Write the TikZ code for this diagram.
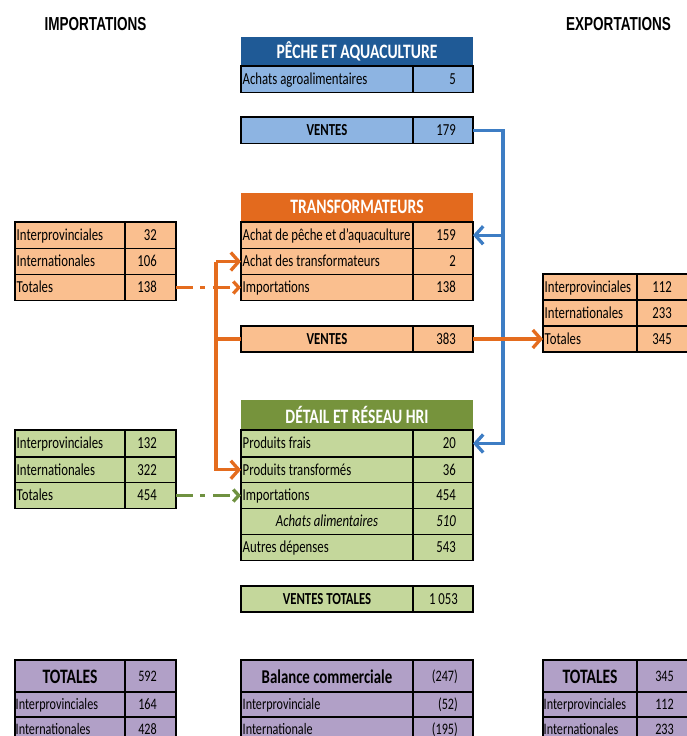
\documentclass[tikz,border=0pt]{standalone}
\usepackage{fontspec}
\setmainfont{Carlito}[FakeStretch=0.76]
\newfontfamily\hdrfont{Liberation Sans}[FakeStretch=0.72]
\usetikzlibrary{arrows.meta}
\definecolor{pechehead}{HTML}{1F5A96}
\definecolor{pechelight}{HTML}{8DB4E2}
\definecolor{orhead}{HTML}{E36A1E}
\definecolor{orlight}{HTML}{FABF8F}
\definecolor{grhead}{HTML}{76933C}
\definecolor{grlight}{HTML}{C4D79B}
\definecolor{purp}{HTML}{B1A0C7}
\definecolor{bluearr}{HTML}{3D7DC4}
\definecolor{orarr}{HTML}{E46C1E}
\definecolor{grarr}{HTML}{6F9140}
\newcommand\rowfont{\fontsize{16.8}{18}\selectfont}
\newcommand\smallrowfont{\fontsize{16}{17}\selectfont}
\newcommand\cells[7]{%
  \node[cellbox, fill=#7, minimum width={(#3)-(#2)}, minimum height={(#6)-(#5)}, anchor=north west] (#1L) at (#2,-#5) {};
  \node[cellbox, fill=#7, minimum width={(#4)-(#3)}, minimum height={(#6)-(#5)}, anchor=north west] (#1V) at (#3,-#5) {};
}
\tikzset{
  cellbox/.style={draw=black, line width=1.8pt, inner sep=0pt, outer sep=0pt},
  hdrbox/.style={inner sep=0pt, outer sep=0pt, text=white, font=\fontsize{20.5}{22}\selectfont\bfseries, minimum width=232pt, minimum height=29pt, anchor=north west},
  lt/.style={anchor=west, xshift=1.5pt, yshift=-1.5pt, inner sep=0pt, font=\rowfont, text height=10.6pt, text depth=3pt},
  vt/.style={anchor=east, xshift=-17pt, yshift=-1.5pt, inner sep=0pt, font=\rowfont, text height=10.6pt, text depth=3pt},
  ct/.style={inner sep=0pt, yshift=-1.5pt, font=\rowfont\bfseries, text height=10.6pt, text depth=3pt},
  blt/.style={lt, font=\smallrowfont},
  bvt/.style={vt, font=\smallrowfont},
  bigt/.style={inner sep=0pt, yshift=-1pt, font=\fontsize{20.5}{22}\selectfont\bfseries},
  toptitle/.style={inner sep=0pt, font=\hdrfont\bfseries\fontsize{18.8}{20}\selectfont},
  barrow/.style={draw=bluearr, line width=3.3pt, line join=miter, -{Straight Barb[length=8pt,width=18pt]}},
  oarrow/.style={draw=orarr, line width=3.3pt, line join=miter, -{Straight Barb[length=8pt,width=18pt]}},
  oline/.style={draw=orarr, line width=3.3pt},
  dd/.style={line width=3.3pt, dash pattern=on 17pt off 7pt on 5pt off 8pt, -{Straight Barb[length=5.5pt,width=12pt]}},
}
\begin{document}
\begin{tikzpicture}[x=1pt,y=1pt]
\useasboundingbox (0,0) rectangle (686,-736);
\fill[white] (0,0) rectangle (686,-736);

% titles
\node[toptitle] (imp) at (95.5,-24) {IMPORTATIONS};
\node[toptitle] (exp) at (618.5,-24) {EXPORTATIONS};

% PECHE
\node[hdrbox, fill=pechehead] (ph) at (241,-37) {PÊCHE ET AQUACULTURE};
\cells{pa}{241}{413}{473}{66}{92.5}{pechelight}
\node[lt] (paT) at (paL.west) {Achats agroalimentaires};
\node[vt] (paN) at (paV.east) {5};
\cells{pv}{241}{413}{473}{117}{143.5}{pechelight}
\node[ct] (pvT) at (pvL) {VENTES};
\node[vt] (pvN) at (pvV.east) {179};

% TRANSFORMATEURS
\node[hdrbox, fill=orhead] (th) at (241,-192.5) {TRANSFORMATEURS};
\cells{ta}{241}{413}{473}{222}{248.5}{orlight}
\node[lt] (taT) at (taL.west) {Achat de pêche et d'aquaculture};
\node[vt] (taN) at (taV.east) {159};
\cells{tb}{241}{413}{473}{248.5}{274.5}{orlight}
\node[lt] (tbT) at (tbL.west) {Achat des transformateurs};
\node[vt] (tbN) at (tbV.east) {2};
\cells{tc}{241}{413}{473}{274.5}{300.5}{orlight}
\node[lt] (tcT) at (tcL.west) {Importations};
\node[vt] (tcN) at (tcV.east) {138};
\cells{tv}{241}{413}{473}{326}{352}{orlight}
\node[ct] (tvT) at (tvL) {VENTES};
\node[vt] (tvN) at (tvV.east) {383};

% left orange table
\cells{la}{15}{125}{176}{222}{248.5}{orlight}
\node[lt] (laT) at (laL.west) {Interprovinciales};
\node[vt, xshift=-2pt] (laN) at (laV.east) {32};
\cells{lb}{15}{125}{176}{248.5}{274.5}{orlight}
\node[lt] (lbT) at (lbL.west) {Internationales};
\node[vt, xshift=-2pt] (lbN) at (lbV.east) {106};
\cells{lc}{15}{125}{176}{274.5}{300.5}{orlight}
\node[lt] (lcT) at (lcL.west) {Totales};
\node[vt, xshift=-2pt] (lcN) at (lcV.east) {138};

% right orange table
\cells{ra}{543}{637}{700}{274}{300}{orlight}
\node[lt] (raT) at (raL.west) {Interprovinciales};
\node[vt, xshift=-11pt] (raN) at (raV.east) {112};
\cells{rb}{543}{637}{700}{300}{326}{orlight}
\node[lt] (rbT) at (rbL.west) {Internationales};
\node[vt, xshift=-11pt] (rbN) at (rbV.east) {233};
\cells{rc}{543}{637}{700}{326}{352}{orlight}
\node[lt] (rcT) at (rcL.west) {Totales};
\node[vt, xshift=-11pt] (rcN) at (rcV.east) {345};

% DETAIL
\node[hdrbox, fill=grhead, minimum height=30pt] (dh) at (241,-400) {DÉTAIL ET RÉSEAU HRI};
\cells{da}{241}{413}{473}{430}{457}{grlight}
\node[lt] (daT) at (daL.west) {Produits frais};
\node[vt] (daN) at (daV.east) {20};
\cells{db}{241}{413}{473}{457}{482.5}{grlight}
\node[lt] (dbT) at (dbL.west) {Produits transformés};
\node[vt] (dbN) at (dbV.east) {36};
\cells{dc}{241}{413}{473}{482.5}{508.5}{grlight}
\node[lt] (dcT) at (dcL.west) {Importations};
\node[vt] (dcN) at (dcV.east) {454};
\cells{dd}{241}{413}{473}{508.5}{534.5}{grlight}
\node[ct, font=\rowfont\itshape] (ddT) at (ddL) {Achats alimentaires};
\node[vt, font=\rowfont\itshape] (ddN) at (ddV.east) {510};
\cells{de}{241}{413}{473}{534.5}{560.5}{grlight}
\node[lt] (deT) at (deL.west) {Autres dépenses};
\node[vt] (deN) at (deV.east) {543};
\cells{vt}{241}{413}{473}{586}{612}{grlight}
\node[ct] (vtT) at (vtL) {VENTES TOTALES};
\node[vt, xshift=2pt] (vtN) at (vtV.east) {1\,053};

% left green table
\cells{ga}{15}{125}{176}{430}{457}{grlight}
\node[lt] (gaT) at (gaL.west) {Interprovinciales};
\node[vt, xshift=-2pt] (gaN) at (gaV.east) {132};
\cells{gb}{15}{125}{176}{457}{482.5}{grlight}
\node[lt] (gbT) at (gbL.west) {Internationales};
\node[vt, xshift=-2pt] (gbN) at (gbV.east) {322};
\cells{gc}{15}{125}{176}{482.5}{508.5}{grlight}
\node[lt] (gcT) at (gcL.west) {Totales};
\node[vt, xshift=-2pt] (gcN) at (gcV.east) {454};

% bottom tables
\cells{xa}{15}{125}{176}{660}{692}{purp}
\node[bigt] (xaT) at (xaL) {TOTALES};
\node[bvt, xshift=-2pt] (xaN) at (xaV.east) {592};
\cells{xb}{15}{125}{176}{692}{717}{purp}
\node[blt, xshift=-1pt] (xbT) at (xbL.west) {Interprovinciales};
\node[bvt, xshift=-2pt] (xbN) at (xbV.east) {164};
\cells{xc}{15}{125}{176}{717}{742}{purp}
\node[blt, xshift=-1pt] (xcT) at (xcL.west) {Internationales};
\node[bvt, xshift=-2pt] (xcN) at (xcV.east) {428};

\cells{ya}{241}{413}{473}{660}{692}{purp}
\node[bigt, font=\fontsize{19.5}{21}\selectfont\bfseries] (yaT) at (yaL) {Balance commerciale};
\node[bvt, xshift=2pt] (yaN) at (yaV.east) {(247)};
\cells{yb}{241}{413}{473}{692}{717}{purp}
\node[blt] (ybT) at (ybL.west) {Interprovinciale};
\node[bvt, xshift=2pt] (ybN) at (ybV.east) {(52)};
\cells{yc}{241}{413}{473}{717}{742}{purp}
\node[blt] (ycT) at (ycL.west) {Internationale};
\node[bvt, xshift=2pt] (ycN) at (ycV.east) {(195)};

\cells{za}{543}{637}{700}{660}{692}{purp}
\node[bigt] (zaT) at (zaL) {TOTALES};
\node[bvt, xshift=-9pt] (zaN) at (zaV.east) {345};
\cells{zb}{543}{637}{700}{692}{717}{purp}
\node[blt, xshift=-1pt] (zbT) at (zbL.west) {Interprovinciales};
\node[bvt, xshift=-9pt] (zbN) at (zbV.east) {112};
\cells{zc}{543}{637}{700}{717}{742}{purp}
\node[blt, xshift=-1pt] (zcT) at (zcL.west) {Internationales};
\node[bvt, xshift=-9pt] (zcN) at (zcV.east) {233};

% blue connectors
\coordinate (bx) at (503,0);
\draw[barrow] (pvV.east) -| (bx |- daV.east) -- (daV.east);
\draw[barrow] (bx |- taV.east) -- (taV.east);

% orange connectors
\coordinate (ox) at (216,0);
\draw[oline] (tvL.west) -- (ox |- tvL.west);
\draw[oarrow] (ox |- tbL.west) -- (tbL.west);
\draw[oarrow] (ox |- tbL.west) -- (ox |- dbL.west) -- (dbL.west);
\draw[oarrow] (tvV.east) -- (rcL.west);

% dash-dot import connectors
\draw[dd, draw=orarr] (lcV.east) -- (tcL.west);
\draw[dd, draw=grarr] (gcV.east) -- (dcL.west);
\end{tikzpicture}
\end{document}
